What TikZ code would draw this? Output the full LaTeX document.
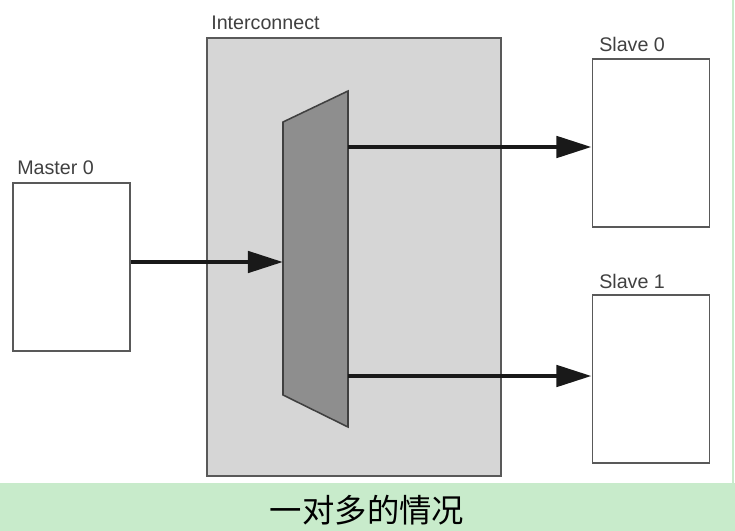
\documentclass[tikz,border=0pt]{standalone}
\usepackage{fontspec}
\setmainfont{Liberation Sans}
\newfontfamily\cjk{Noto Sans CJK SC}
\usetikzlibrary{arrows.meta, positioning}

\definecolor{bandgreen}{HTML}{C8EBCB}
\definecolor{icfill}{HTML}{D6D6D6}
\definecolor{muxfill}{HTML}{8E8E8E}

\begin{document}
\begin{tikzpicture}[
    x=0.025cm, y=-0.025cm,
    blk/.style={
      draw=black!65, line width=1.3pt, fill=white,
      minimum width=2.925cm, minimum height=4.2cm, inner sep=0pt
    },
    icbox/.style={
      draw=black!65, line width=1.3pt, fill=icfill,
      minimum width=7.35cm, minimum height=10.95cm, inner sep=0pt
    },
    lbl/.style={anchor=base west, inner sep=0pt, font=\fontsize{14}{16}\selectfont, text=black!75},
    fl/.style={-{Triangle[length=25pt, width=15pt]}, line width=3.3pt, black!90},
    capt/.style={font=\cjk\fontsize{23}{26}\selectfont}
  ]
    \useasboundingbox (0,0) rectangle (735,531);

    % --- interconnect ---
    \node[icbox] (ic) at (354,257) {};
    \node[lbl] (iclbl) at (211,30) {Interconnect};

    % --- mux ---
    \coordinate (muxin) at (283,262);
    \coordinate (mux0)  at (348,147);
    \coordinate (mux1)  at (348,376);
    \draw[draw=black!75, line width=1.1pt, fill=muxfill]
      (283,122) -- (348,91) -- (348,427) -- (283,395) -- cycle;

    % --- master / slaves ---
    \node[blk] (m0) at (71.5,267) {};
    \node[lbl] (m0lbl) at (17,175) {Master 0};
    \node[blk] (s0) at (651,143) {};
    \node[lbl] (s0lbl) at (599,52) {Slave 0};
    \node[blk] (s1) at (651,379) {};
    \node[lbl] (s1lbl) at (599,288) {Slave 1};

    \draw[fl] (m0.east |- muxin) -- (muxin);
    \draw[fl] (mux0) -- (s0.west |- mux0);
    \draw[fl] (mux1) -- (s1.west |- mux1);

    % --- caption band ---
    \fill[bandgreen] (0,483) rectangle (735,531);
    \draw[bandgreen, line width=0.8pt] (733,0) -- (733,483);
    \node[capt] (cap) at (367,510) {一对多的情况};
\end{tikzpicture}
\end{document}
